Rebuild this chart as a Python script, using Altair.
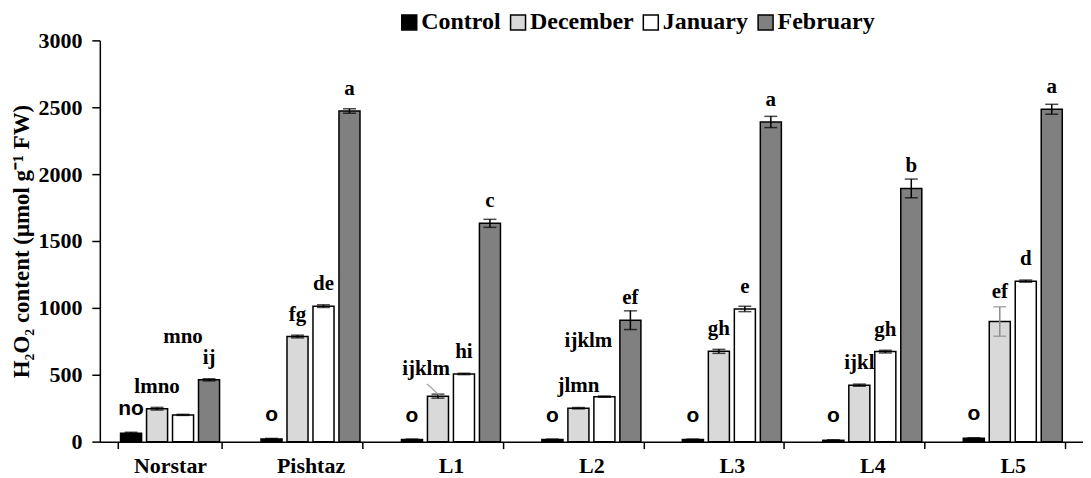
import altair as alt
import pandas as pd

cultivars = ["Norstar", "Pishtaz", "L1", "L2", "L3", "L4", "L5"]
months = ["Control", "December", "January", "February"]
colors = ["#000000", "#d9d9d9", "#ffffff", "#808080"]

control = [62, 20, 15, 15, 15, 10, 25]
december = [246, 786, 340, 250, 675, 422, 898]
january = [200, 1013, 506, 336, 992, 673, 1200]
february = [462, 2472, 1632, 908, 2390, 1893, 2485]

control_err = [8, 4, 4, 4, 4, 4, 4]
december_err = [10, 10, 15, 5, 15, 8, 110]
january_err = [4, 10, 5, 5, 20, 10, 8]
february_err = [8, 16, 30, 70, 42, 70, 37]

control_lab = ["no", "o", "o", "o", "o", "o", "o"]
december_lab = ["lmno", "fg", "ijklm", "jlmn", "gh", "ijkl", "ef"]
january_lab = ["mno", "de", "hi", "ijklm", "e", "gh", "d"]
february_lab = ["ij", "a", "c", "ef", "a", "b", "a"]

rows = []
series = [
    ("Control", control, control_err, control_lab),
    ("December", december, december_err, december_lab),
    ("January", january, january_err, january_lab),
    ("February", february, february_err, february_lab),
]
for m, vals, errs, labs in series:
    for c, v, e, l in zip(cultivars, vals, errs, labs):
        rows.append({"cultivar": c, "month": m, "value": v, "lo": v - e,
                     "hi": v + e, "label": l, "key": c + "|" + m})
df = pd.DataFrame(rows)

SERIF = "Liberation Serif"
SANS = "Liberation Sans"

x_enc = alt.X("cultivar:N", sort=cultivars,
              scale=alt.Scale(paddingInner=0.26, paddingOuter=0.13),
              axis=alt.Axis(title=None, labelAngle=0, labelFont=SERIF,
                            labelFontWeight="bold", labelFontSize=22,
                            labelColor="black", domainColor="black",
                            domainWidth=1.5, tickColor="black", tickWidth=1.5,
                            tickSize=7, tickBand="extent", labelPadding=7))
x_plain = alt.X("cultivar:N", sort=cultivars)
xo_enc = alt.XOffset("month:N", sort=months,
                     scale=alt.Scale(paddingInner=0.19, paddingOuter=0.095))
xo_plain = alt.XOffset("month:N", sort=months)
y_scale = alt.Scale(domain=[0, 3000], nice=False)

base = alt.Chart(df)

bars = base.mark_bar(stroke="black", strokeWidth=1.5).encode(
    x=x_enc,
    xOffset=xo_enc,
    y=alt.Y("value:Q", scale=y_scale,
            axis=alt.Axis(title="H₂O₂ content (μmol g⁻¹ FW)",
                          values=[0, 500, 1000, 1500, 2000, 2500, 3000],
                          format="d",
                          grid=False, tickSize=8, tickWidth=1.5,
                          tickColor="black", domainColor="black",
                          domainWidth=1.5, labelFont=SERIF,
                          labelFontWeight="bold", labelFontSize=22,
                          labelColor="black", labelPadding=10,
                          titleFont=SERIF, titleFontWeight="bold",
                          titleFontSize=23, titleColor="black",
                          titlePadding=4)),
    color=alt.Color("month:N", sort=months,
                    scale=alt.Scale(domain=months, range=colors),
                    legend=alt.Legend(title=None, orient="none",
                                      direction="horizontal",
                                      legendX=298, legendY=-30,
                                      symbolType="square", symbolSize=225,
                                      symbolStrokeColor="black",
                                      symbolStrokeWidth=1.5,
                                      symbolOpacity=1,
                                      labelFont=SERIF, labelFontWeight="bold",
                                      labelFontSize=24, labelColor="black",
                                      labelOffset=0, columnPadding=5)),
)

err_color = alt.condition("datum.key == 'L5|December'",
                          alt.value("#8c8c8c"), alt.value("black"))
err_rule = base.mark_rule(strokeWidth=1.5).encode(
    x=x_plain, xOffset=xo_plain, y="lo:Q", y2="hi:Q", color=err_color)
cap_lo = base.mark_tick(size=13, thickness=1.5).encode(
    x=x_plain, xOffset=xo_plain, y="lo:Q", color=err_color)
cap_hi = base.mark_tick(size=13, thickness=1.5).encode(
    x=x_plain, xOffset=xo_plain, y="hi:Q", color=err_color)

special = ["Norstar|January", "L1|December", "L2|January", "L5|December"]


def txt(filter_expr, font, dy, dx=0):
    return base.transform_filter(filter_expr).mark_text(
        font=font, fontWeight="bold", fontSize=21, color="black",
        baseline="alphabetic", dy=dy, dx=dx).encode(
        x=x_plain, xOffset=xo_plain, y="value:Q", text="label:N")


lab_main = txt(
    "datum.month != 'Control' && indexof(%s, datum.key) < 0" % str(special),
    SERIF, -16)
lab_ctrl = txt("datum.month == 'Control'", SANS, -18)
lab_s1 = txt("datum.key == 'Norstar|January'", SERIF, -72)
lab_s2 = txt("datum.key == 'L1|December'", SERIF, -21, -12)
lab_s3 = txt("datum.key == 'L2|January'", SERIF, -50, -16)
lab_s4 = txt("datum.key == 'L5|December'", SERIF, -24)

# grey leader line from the "ijklm" label to the L1 December bar
leader = base.transform_filter("datum.key == 'L1|December'").mark_text(
    text="—", font=SANS, fontSize=17, color="#9a9a9a", angle=43,
    baseline="middle", dx=-8, dy=-2).encode(
    x=x_plain, xOffset=xo_plain, y="value:Q")

chart = alt.layer(bars, err_rule, cap_lo, cap_hi, lab_main, lab_ctrl,
                  lab_s1, lab_s2, lab_s3, lab_s4, leader).properties(
    width=985, height=402,
    padding={"left": 3, "right": 0, "top": 2, "bottom": 0},
    background="white",
).configure_view(stroke=None)

chart.save("out.html", embed_options={"renderer": "svg", "actions": False})
